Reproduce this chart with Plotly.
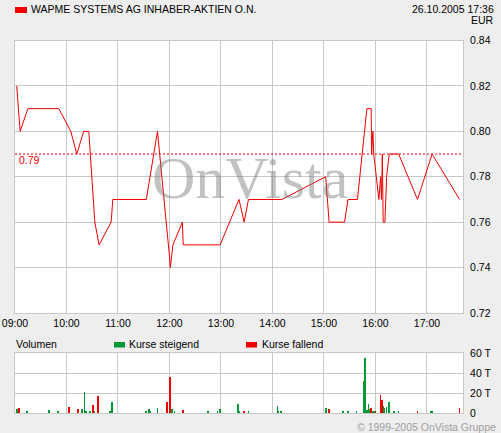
import plotly.graph_objects as go

DAY = "2005-10-26 "

# ---- data ----
title_text = "WAPME SYSTEMS AG INHABER-AKTIEN O.N."
stamp_text = "26.10.2005 17:36"
currency = "EUR"
ref_price = 0.79

price_times = ["09:02", "09:06", "09:15", "09:51", "10:05", "10:12", "10:20", "10:26",
               "10:33", "10:38", "10:52", "10:54", "11:33", "11:46", "12:00", "12:01",
               "12:04", "12:15", "12:16", "12:59", "13:21", "13:27", "13:32", "14:11",
               "15:02", "15:06", "15:24", "15:28", "15:39", "15:50", "15:55", "15:55:30",
               "15:57", "15:58", "16:01", "16:04", "16:06", "16:07", "16:08", "16:09",
               "16:11", "16:13", "16:16", "16:27", "16:49", "17:06", "17:38"]
price_values = [0.82, 0.80, 0.81, 0.81, 0.80, 0.79, 0.80, 0.80,
                0.76, 0.75, 0.76, 0.77, 0.77, 0.80, 0.745, 0.74,
                0.75, 0.76, 0.75, 0.75, 0.77, 0.76, 0.77, 0.77,
                0.78, 0.76, 0.76, 0.77, 0.77, 0.81, 0.81, 0.79,
                0.80, 0.79, 0.78, 0.77, 0.78, 0.77, 0.79, 0.76,
                0.76, 0.78, 0.79, 0.79, 0.77, 0.79, 0.77]

vol_up_times = ["09:02", "09:14", "09:40", "09:50", "10:18", "10:21", "10:23", "10:27",
                "10:32", "10:51", "10:53", "11:33", "11:36", "11:38", "11:46", "12:03",
                "12:06", "12:15", "12:45", "12:56", "12:59", "13:20", "13:21", "13:32",
                "14:06", "14:07", "14:10", "15:02", "15:22", "15:28", "15:38", "15:46",
                "15:48", "15:50", "15:52", "15:53", "15:54", "15:57", "15:59", "16:07",
                "16:09", "16:10", "16:13", "16:16", "16:22", "16:27", "17:05", "17:06"]
vol_up = [4.3, 1.7, 3.3, 2.3, 4.3, 21.3, 2.3, 1.7,
          1.3, 1.3, 11.3, 2.3, 4.3, 1.3, 5.3, 4.3,
          1.3, 1.3, 1.3, 2.3, 4.3, 9.3, 1.3, 1.3,
          7.3, 1.3, 2.3, 5.3, 1.3, 1.3, 2.3, 32.3,
          55.3, 3.3, 9.3, 4.3, 4.3, 1.3, 2.3, 3.3,
          7.3, 5.3, 6.3, 11.3, 1.3, 1.3, 2.3, 2.3]

vol_down_times = ["09:05", "10:03", "10:13", "10:31", "10:37", "11:57", "12:01", "12:16",
                  "13:27", "15:06", "15:55", "16:00", "16:06", "16:08", "16:49", "17:38"]
vol_down = [5.3, 6.3, 4.3, 8.3, 17.3, 11.3, 36.3, 3.3,
            1.3, 4.3, 5.3, 1.3, 18.3, 13.3, 1.3, 5.3]

price_ticks = [0.72, 0.74, 0.76, 0.78, 0.80, 0.82, 0.84]
vol_tickvals = [0, 20, 40, 60]
vol_ticktext = ["0", "20 T", "40 T", "60 T"]

x_start, x_end = "09:00", "17:42"

# ---- styling ----
W, H = 501, 433
RED = "#f00000"
GREEN = "#009933"
GRID = "#c8c8c8"
BG = "#eeeeee"
FONT = "Liberation Sans, Arial, sans-serif"
FS = 10.5

def ts(t):
    return DAY + (t if len(t) > 5 else t + ":00")

def px(x):
    return x / W

def py(y):
    return 1 - y / H

fig = go.Figure()

fig.add_trace(go.Scatter(
    x=[ts(t) for t in price_times], y=price_values, mode="lines",
    line=dict(color=RED, width=1), xaxis="x", yaxis="y", showlegend=False,
    hoverinfo="skip"))

fig.add_trace(go.Bar(
    x=[ts(t) for t in vol_up_times], y=vol_up, marker=dict(color=GREEN, line=dict(width=0)),
    width=50000, xaxis="x2", yaxis="y2", showlegend=False, hoverinfo="skip"))
fig.add_trace(go.Bar(
    x=[ts(t) for t in vol_down_times], y=vol_down, marker=dict(color=RED, line=dict(width=0)),
    width=50000, xaxis="x2", yaxis="y2", showlegend=False, hoverinfo="skip"))

xdom = [px(15), px(463)]
axis_common = dict(showgrid=True, gridcolor=GRID, gridwidth=1, showline=True,
                   linecolor=GRID, linewidth=1, mirror=True, zeroline=False,
                   ticks="", automargin=False, fixedrange=True)

fig.update_layout(
    width=W, height=H, margin=dict(l=0, r=0, t=0, b=0), autosize=False,
    paper_bgcolor=BG, plot_bgcolor="white",
    font=dict(family=FONT, size=FS, color="#000000"),
    barmode="overlay", bargap=0,
    xaxis=dict(domain=xdom, type="date", range=[ts(x_start), ts(x_end)],
               tick0=ts("09:00"), dtick=3600000, tickformat="%H:%M",
               anchor="y", **axis_common),
    yaxis=dict(domain=[py(313), py(40.5)], range=[price_ticks[0], price_ticks[-1]],
               tickvals=price_ticks, tickformat=".2f", side="right", anchor="x",
               ticklabelstandoff=4, **axis_common),
    xaxis2=dict(domain=xdom, type="date", range=[ts(x_start), ts(x_end)],
                tick0=ts("09:00"), dtick=3600000, showticklabels=False,
                matches="x", anchor="y2", **axis_common),
    yaxis2=dict(domain=[py(413.3), py(353.3)], range=[0, 60], tickvals=vol_tickvals,
                ticktext=vol_ticktext, side="right", anchor="x2",
                ticklabelstandoff=4, **axis_common),
)

# reference line
fig.add_shape(type="line", xref="x domain", yref="y", x0=0, x1=1, y0=ref_price, y1=ref_price,
              line=dict(color=RED, width=1, dash="2px,2px"))

annotations = []
# watermark
annotations.append(dict(
    text="OnVista<span style='color:rgba(230,120,120,0.45)'>.</span>",
    xref="paper", yref="paper", x=px(150), y=py(178), xanchor="left", yanchor="middle",
    showarrow=False, font=dict(family="Liberation Serif, Times New Roman, serif", size=60,
                               color="rgba(120,120,120,0.45)")))
# ref label
annotations.append(dict(text=f"{ref_price:.2f}", xref="paper", yref="paper",
                        x=px(17), y=py(160), xanchor="left", yanchor="middle",
                        showarrow=False, font=dict(color=RED, size=FS, family=FONT)))
# title
annotations.append(dict(text=title_text, xref="paper", yref="paper", x=px(29), y=py(9.5),
                        xanchor="left", yanchor="middle", showarrow=False))
annotations.append(dict(text=stamp_text, xref="paper", yref="paper", x=px(496), y=py(9.5),
                        xanchor="right", yanchor="middle", showarrow=False))
annotations.append(dict(text=currency, xref="paper", yref="paper", x=px(496), y=py(20.5),
                        xanchor="right", yanchor="middle", showarrow=False))
# volume legend
annotations.append(dict(text="Volumen", xref="paper", yref="paper", x=px(14), y=py(344),
                        xanchor="left", yanchor="middle", showarrow=False))
annotations.append(dict(text="Kurse steigend", xref="paper", yref="paper", x=px(127), y=py(344),
                        xanchor="left", yanchor="middle", showarrow=False))
annotations.append(dict(text="Kurse fallend", xref="paper", yref="paper", x=px(260), y=py(344),
                        xanchor="left", yanchor="middle", showarrow=False))
# copyright
annotations.append(dict(text="© 1999-2005 OnVista Gruppe", xref="paper", yref="paper",
                        x=px(498), y=py(427), xanchor="right", yanchor="middle",
                        showarrow=False, font=dict(color="#a0a0a0", size=FS, family=FONT)))
fig.update_layout(annotations=annotations)

# legend swatches
for (x0, x1, y0, y1, c) in [(15, 27, 7, 13, RED), (114, 125, 342, 347.5, GREEN),
                            (246, 257, 342, 347.5, RED)]:
    fig.add_shape(type="rect", xref="paper", yref="paper", x0=px(x0), x1=px(x1),
                  y0=py(y1), y1=py(y0), fillcolor=c, line=dict(width=0))

fig.write_html("out.html", config={"displayModeBar": False},
               post_script="document.body.style.margin='0';document.body.style.overflow='hidden';document.body.style.background='#eeeeee';")
